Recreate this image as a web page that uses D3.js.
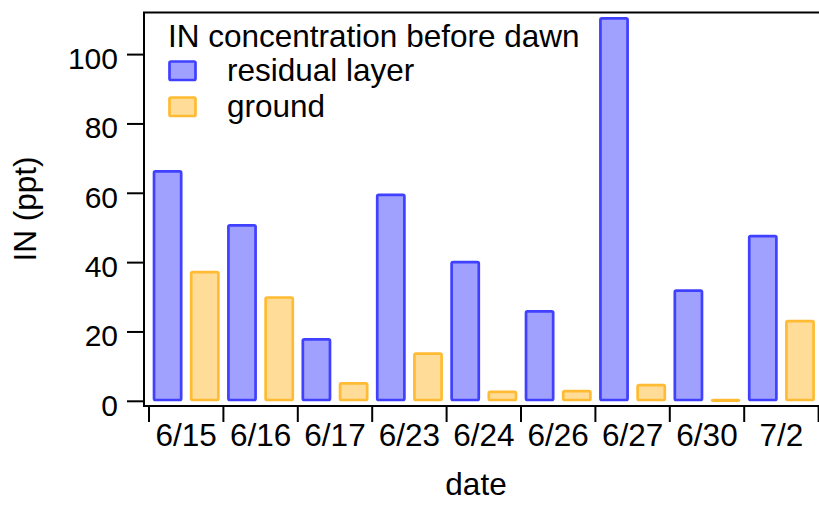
<!DOCTYPE html>
<html>
<head>
<meta charset="utf-8">
<script src="https://cdn.jsdelivr.net/npm/d3@7"></script>
<style>
  body { margin: 0; background: #fff; }
  svg { display: block; font-family: "Liberation Sans", Arial, sans-serif; }
</style>
</head>
<body>
<svg id="chart"></svg>
<script>
const dates = ["6/15", "6/16", "6/17", "6/23", "6/24", "6/26", "6/27", "6/30", "7/2"];
const residualLayer = [66.2, 50.6, 17.7, 59.4, 40.0, 25.8, 110.3, 31.8, 47.5];
const ground = [37.1, 29.8, 5.0, 13.6, 2.6, 2.8, 4.5, 0.2, 23.0];
const yTicks = [0, 20, 40, 60, 80, 100];
const seriesNames = ["residual layer", "ground"];

const W = 819, H = 510;
const svg = d3.select("#chart").attr("width", W).attr("height", H);

const data = dates.map((d, i) => ({ date: d, values: [
    { key: seriesNames[0], value: residualLayer[i] },
    { key: seriesNames[1], value: ground[i] }
]}));

const frameLeft = 144, frameTop = 12.5, frameBottom = 406;

const x0 = d3.scaleBand().domain(dates).range([149, 818.6]).padding(0);
const x1 = d3.scaleBand().domain(seriesNames).range([0, x0.bandwidth()])
    .paddingInner(0.27).paddingOuter(0.135);
const y = d3.scaleLinear().domain([0, 112]).range([400.8, frameTop]);

const stroke = d3.scaleOrdinal().domain(seriesNames).range(["#4040ff", "#ffbb33"]);
const fill = d3.scaleOrdinal().domain(seriesNames).range(["#a0a0ff", "#ffdd99"]);

// bars
svg.append("g").selectAll("g")
    .data(data)
    .enter().append("g")
    .attr("transform", d => `translate(${x0(d.date)},0)`)
    .selectAll("rect")
    .data(d => d.values)
    .enter().append("rect")
    .attr("x", d => x1(d.key))
    .attr("width", x1.bandwidth())
    .attr("y", d => y(d.value))
    .attr("height", d => Math.max(0.5, y(0) - 0.8 - y(d.value)))
    .attr("rx", 1.5)
    .attr("fill", d => fill(d.key))
    .attr("stroke", d => stroke(d.key))
    .attr("stroke-width", 2.7);

// frame
svg.append("path")
    .attr("d", `M819,${frameTop}H${frameLeft}V${frameBottom}H819`)
    .attr("fill", "none")
    .attr("stroke", "#000")
    .attr("stroke-width", 2);

// y axis
const yAxis = svg.append("g")
    .attr("transform", `translate(${frameLeft},0)`)
    .call(d3.axisLeft(y).tickValues(yTicks).tickSize(17).tickPadding(9));
yAxis.select(".domain").remove();
yAxis.selectAll(".tick line").attr("stroke", "#000").attr("stroke-width", 2);
yAxis.selectAll(".tick text")
    .attr("dy", 14.5)
    .attr("fill", "#000")
    .style("font-size", "30px")
    .style("font-family", "'Liberation Sans', Arial, sans-serif");

// x axis
const xAxis = svg.append("g")
    .attr("transform", `translate(0,${frameBottom})`)
    .call(d3.axisBottom(x0).tickSize(0));
xAxis.select(".domain").remove();
xAxis.selectAll(".tick text")
    .attr("y", 40)
    .attr("dy", 0)
    .attr("fill", "#000")
    .style("font-size", "31.5px")
    .style("font-family", "'Liberation Sans', Arial, sans-serif");

// boundary ticks between categories
const edges = dates.map(d => x0(d)).concat([x0.range()[1]]);
xAxis.selectAll(".edge")
    .data(edges)
    .enter().append("line")
    .attr("class", "edge")
    .attr("x1", d => d).attr("x2", d => d)
    .attr("y1", 0).attr("y2", 16)
    .attr("stroke", "#000")
    .attr("stroke-width", 2);

// axis titles
svg.append("text")
    .attr("x", 476)
    .attr("y", 495)
    .attr("text-anchor", "middle")
    .style("font-size", "31.5px")
    .text("date");

svg.append("text")
    .attr("transform", "translate(36,209) rotate(-90)")
    .attr("text-anchor", "middle")
    .style("font-size", "31.5px")
    .text("IN (ppt)");

// legend
const legend = svg.append("g");
legend.append("text")
    .attr("x", 168)
    .attr("y", 46.5)
    .style("font-size", "31.5px")
    .text("IN concentration before dawn");

const items = legend.selectAll(".item")
    .data(seriesNames)
    .enter().append("g")
    .attr("class", "item")
    .attr("transform", (d, i) => `translate(0,${i * 36})`);
items.append("rect")
    .attr("x", 169.5).attr("y", 61.5)
    .attr("width", 26).attr("height", 18.5)
    .attr("rx", 1.5)
    .attr("fill", d => fill(d))
    .attr("stroke", d => stroke(d))
    .attr("stroke-width", 2.7);
items.append("text")
    .attr("x", 227)
    .attr("y", 81)
    .style("font-size", "31.5px")
    .text(d => d);
</script>
</body>
</html>
